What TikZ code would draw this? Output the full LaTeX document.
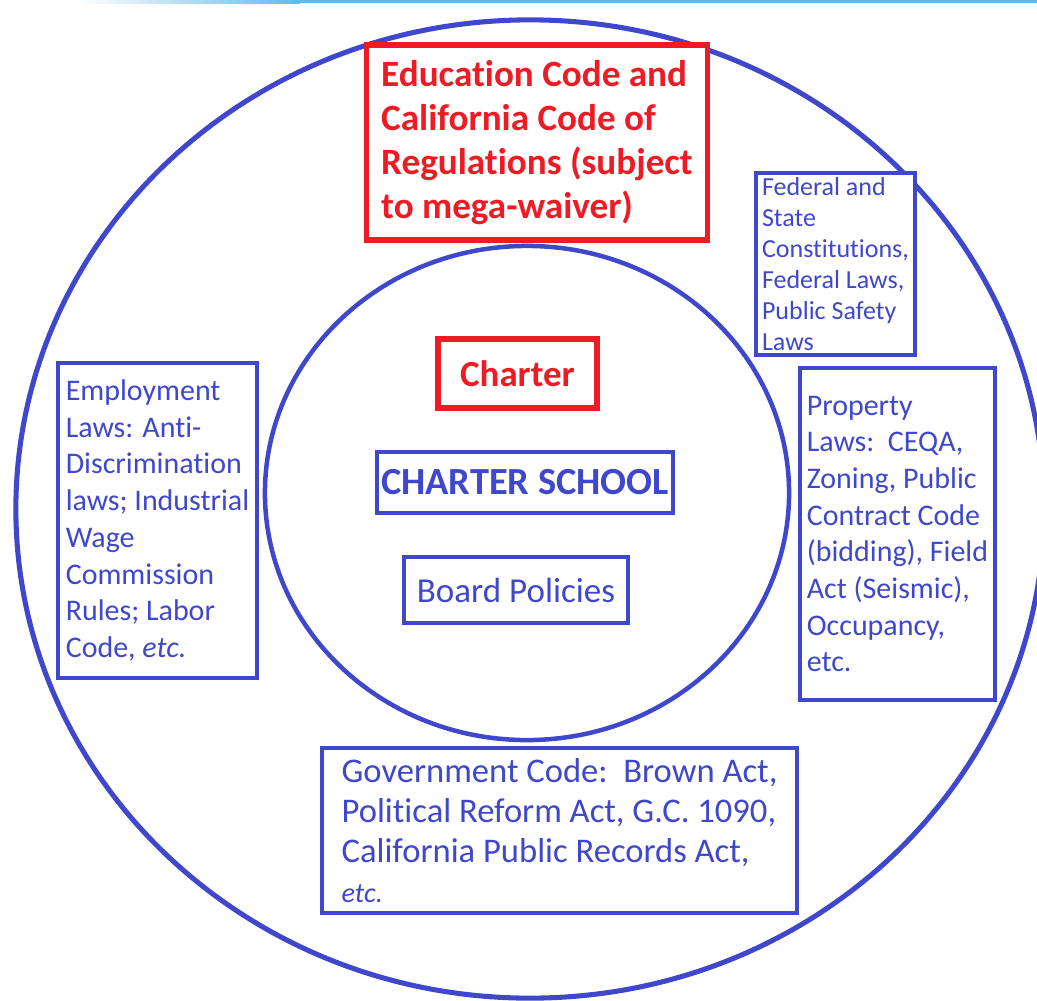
\documentclass[tikz,border=0pt]{standalone}
\usepackage{fontspec}
\setmainfont{Carlito}[Ligatures=NoCommon]
\usepackage{tikz}
\usetikzlibrary{calc}
\definecolor{lawblue}{RGB}{63,72,204}
\definecolor{lawred}{RGB}{237,28,36}
\definecolor{slidetop}{RGB}{96,186,238}
\newcommand{\fsz}[2]{\fontsize{#1}{#2}\selectfont}
\tikzset{
	bluebox/.style={draw=lawblue, fill=white, line width=3.4pt, text=lawblue, align=left, inner sep=0pt},
	redbox/.style={draw=lawred, fill=white, line width=3.6pt, text=lawred, align=left, inner sep=0pt},
}

\begin{document}
\begin{tikzpicture}[x=0.025cm, y=-0.025cm]
		%%%%% START %%%%%
		\useasboundingbox (0, 0) rectangle (1037, 1000);
		\clip (0, 0) rectangle (1037, 1000);
		
		\shade[left color=white, right color=slidetop] (80, 0) rectangle (300, 3);
		\fill[slidetop] (300, 0) rectangle (1037, 3);
		
		\draw[lawblue, line width=3.6pt] (530, 509) ellipse [x radius=12.85cm, y radius=12.225cm];
		\draw[lawblue, line width=3.2pt] (527, 493) ellipse [x radius=6.55cm, y radius=6.175cm];
		
		\node[redbox, minimum width=8.5cm, minimum height=4.875cm, font=\fsz{26.4pt}{31.3pt}\bfseries] (educode) at (537, 142.5)
			{Education Code and\\California Code of\\Regulations (subject\\to mega-waiver)};
		
		\node[bluebox, line width=2.9pt, minimum width=3.975cm, minimum height=4.55cm, font=\fsz{18.5pt}{22pt}] (federal) at (835.5, 264)
			{Federal and\\State\\Constitutions,\\Federal Laws,\\Public Safety\\Laws};
		
		\node[bluebox, minimum width=4.975cm, minimum height=7.875cm, font=\fsz{21.3pt}{26.1pt}] (employ) at (157.5, 520.5)
			{Employment\\Laws: Anti-\\Discrimination\\laws; Industrial\\Wage\\Commission\\Rules; Labor\\Code, \textit{etc.}};
		
		\node[bluebox, minimum width=4.875cm, minimum height=8.3cm, font=\fsz{21.3pt}{26.1pt}] (property) at (897.5, 534)
			{Property\\Laws:\ \ CEQA,\\Zoning, Public\\Contract Code\\(bidding), Field\\Act (Seismic),\\Occupancy,\\etc.};
		
		\node[bluebox, minimum width=11.875cm, minimum height=4.125cm, font=\fsz{24.6pt}{28.5pt}] (govcode) at (559.5, 830.5)
			{Government Code:\ \ Brown Act,\\Political Reform Act, G.C. 1090,\\California Public Records Act,\\{\fsz{20pt}{28.5pt}\itshape etc.}};
		
		\node[redbox, minimum width=3.975cm, minimum height=1.725cm, font=\fsz{26.2pt}{30pt}\bfseries] (charter) at (517.5, 373.5) {Charter};
		\node[bluebox, line width=2.9pt, minimum width=7.4cm, minimum height=1.525cm, font=\fsz{27.3pt}{30pt}\bfseries] (school) at (525, 482.5) {CHARTER SCHOOL};
		\node[bluebox, line width=2.9pt, minimum width=5.6cm, minimum height=1.65cm, font=\fsz{24.9pt}{30pt}] (board) at (516, 590) {Board Policies};
		
		%%%%% END %%%%%
	\end{tikzpicture}
\end{document}
